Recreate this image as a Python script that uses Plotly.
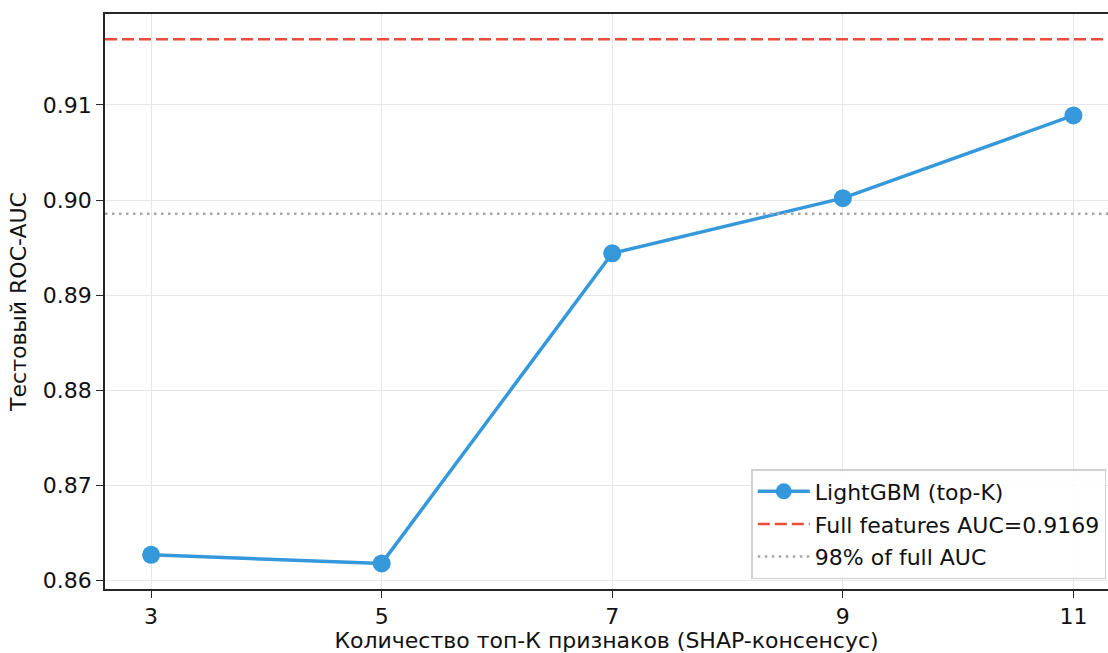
import plotly.graph_objects as go

k_values = [3, 5, 7, 9, 11]
auc_values = [0.8627, 0.8618, 0.8944, 0.9002, 0.9089]
full_auc = 0.9169
threshold_ratio = 0.98
x_range = [2.6, 11.3]
y_range = [0.85911, 0.91956]
y_ticks = [0.86, 0.87, 0.88, 0.89, 0.90, 0.91]
y_tick_labels = ["0.86", "0.87", "0.88", "0.89", "0.90", "0.91"]

FONT = "DejaVu Sans, Liberation Sans, sans-serif"
FS = 22

fig = go.Figure()
fig.add_trace(go.Scatter(
    x=k_values, y=auc_values, mode="lines+markers",
    name="LightGBM (top-K)", legendgroup="a",
    line=dict(color="#3498db", width=3.5),
    marker=dict(color="#3498db", size=18),
))
fig.add_trace(go.Scatter(
    x=x_range, y=[full_auc, full_auc], mode="lines",
    name=f"Full features AUC={full_auc:.4f}", legendgroup="b",
    line=dict(color="#e74c3c", width=2.5, dash="12px,5px"),
))
thr = full_auc * threshold_ratio
fig.add_trace(go.Scatter(
    x=x_range, y=[thr, thr], mode="lines",
    name="98% of full AUC", legendgroup="c",
    line=dict(color="#a6a6a6", width=2.5, dash="2.5px,4.5px"),
))

axis_common = dict(
    showline=True, linecolor="#262626", linewidth=1.6,
    ticks="outside", ticklen=7, tickwidth=1.4, tickcolor="#262626",
    showgrid=True, gridcolor="#e6e6e6", gridwidth=1.2,
    zeroline=False, automargin=False,
    tickfont=dict(family=FONT, size=FS, color="#111111"),
)

fig.update_layout(
    width=1108, height=653,
    margin=dict(l=105, r=0, t=14, b=63.5),
    paper_bgcolor="white", plot_bgcolor="white",
    font=dict(family=FONT, size=FS, color="#111111"),
    showlegend=True,
    legend=dict(
        x=0.9985, y=0.017, xanchor="right", yanchor="bottom",
        bgcolor="rgba(255,255,255,0.85)", bordercolor="#d0d0d0", borderwidth=1.3,
        font=dict(family=FONT, size=FS, color="#111111"),
        traceorder="grouped", tracegroupgap=1, itemwidth=52,
    ),
    xaxis=dict(
        range=x_range, tickvals=k_values, mirror=True,
        title=dict(text="Количество топ-К признаков (SHAP-консенсус)",
                   font=dict(family=FONT, size=FS, color="#111111"), standoff=15),
        **axis_common,
    ),
    yaxis=dict(
        range=y_range, tickvals=y_ticks, ticktext=y_tick_labels, mirror=False,
        title=dict(text="Тестовый ROC-AUC",
                   font=dict(family=FONT, size=FS, color="#111111"), standoff=10),
        **axis_common,
    ),
)

fig.write_html("out.html")
